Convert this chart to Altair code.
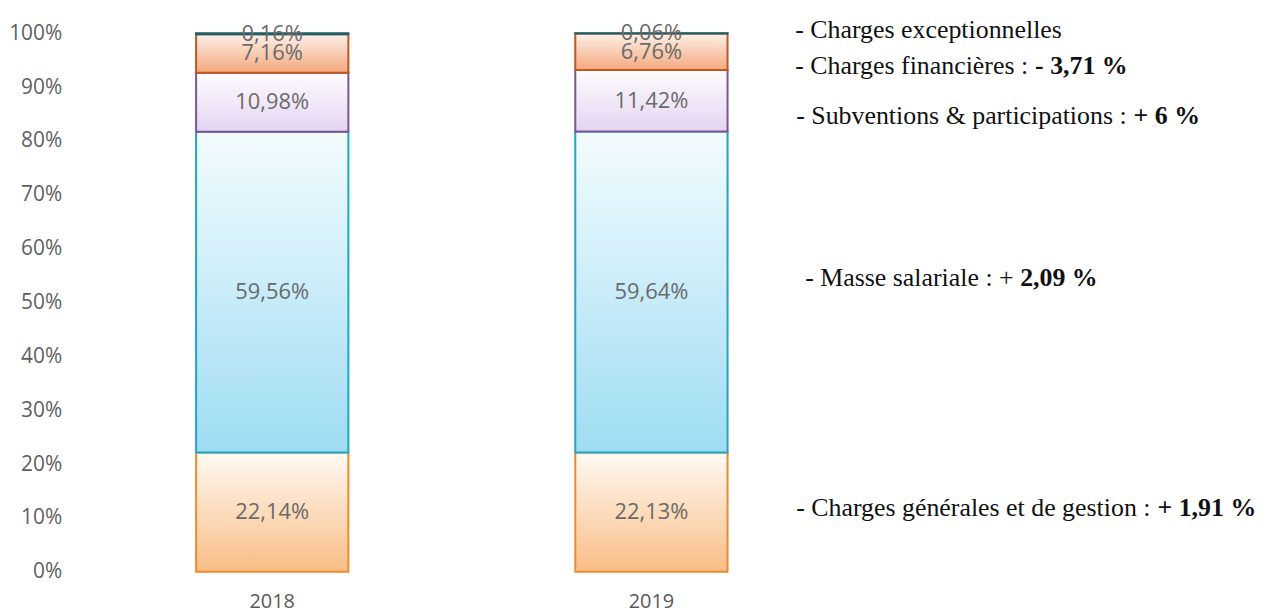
import altair as alt
import pandas as pd

years = ["2018", "2019"]
categories = [
    "Charges générales et de gestion",
    "Masse salariale",
    "Subventions & participations",
    "Charges financières",
    "Charges exceptionnelles",
]
values_2018 = [22.14, 59.56, 10.98, 7.16, 0.16]
values_2019 = [22.13, 59.64, 11.42, 6.76, 0.06]
y_ticks = [0, 10, 20, 30, 40, 50, 60, 70, 80, 90, 100]

# annotation texts (normal part, bold part)
notes_normal = [
    "- Charges exceptionnelles",
    "- Charges financières : ",
    "- Subventions & participations : ",
    "- Masse salariale : + ",
    "- Charges générales et de gestion : ",
]
notes_bold = ["", "- 3,71 %", "+ 6 %", "2,09 %", "+ 1,91 %"]

rows = []
for y, vals in zip(years, [values_2018, values_2019]):
    for i, (c, v) in enumerate(zip(categories, vals)):
        rows.append({"year": y, "cat": c, "order": i, "value": v})
df = pd.DataFrame(rows)

# styles per category: (stroke, gradient top, gradient bottom)
styles = {
    categories[0]: ("#ef8a2c", "#fffaf3", "#f9bd86"),
    categories[1]: ("#1ea6c6", "#f4fcfe", "#9edcf3"),
    categories[2]: ("#7a5694", "#fefcff", "#e4d4f1"),
    categories[3]: ("#c0561a", "#fdf0e8", "#f4a87d"),
    categories[4]: ("#1d5e6b", "#d8f3fa", "#9fdcef"),
}

W, H = 762, 541

base = alt.Chart(df).transform_stack(
    stack="value", groupby=["year"], as_=["y0", "y1"], sort=[alt.SortField("order")]
)

x_enc = alt.X(
    "year:N",
    title=None,
    scale=alt.Scale(paddingInner=0, paddingOuter=0),
    axis=alt.Axis(
        labelAngle=0,
        domain=False,
        ticks=False,
        tickSize=0,
        labelPadding=20,
        labelFont="Open Sans",
        labelFontSize=20,
        labelColor="#595959",
    ),
)
y_scale = alt.Scale(domain=[0, 100], nice=False, zero=True)

layers = []
for c in categories:
    stroke, top, bottom = styles[c]
    grad = alt.Gradient(
        gradient="linear",
        stops=[
            alt.GradientStop(color=top, offset=0),
            alt.GradientStop(color=bottom, offset=1),
        ],
        x1=0, x2=0, y1=0, y2=1,
    )
    layer = base.transform_filter(alt.datum.cat == c).mark_bar(
        size=153, fill=grad, stroke=stroke, strokeWidth=2
    ).encode(
        x=x_enc,
        y=alt.Y(
            "y0:Q",
            title=None,
            scale=y_scale,
            axis=alt.Axis(
                values=y_ticks,
                labelExpr="datum.value + '%'",
                domain=False,
                ticks=False,
                tickSize=0,
                grid=False,
                labelPadding=21,
                labelFont="Open Sans",
                labelFontSize=21,
                labelColor="#5f5f5f",
            ),
        ),
        y2="y1:Q",
    )
    layers.append(layer)

labels = base.transform_calculate(
    mid="(datum.y0 + datum.y1) / 2",
    label="replace(format(datum.value, '.2f'), '.', ',') + '%'",
).mark_text(font="Open Sans", fontSize=22, color="#6a6a6a").encode(
    x=alt.X("year:N"),
    y=alt.Y("mid:Q", scale=y_scale),
    text="label:N",
)
layers.append(labels)

# annotations on the right (pixel positions relative to plot area)
ann_x_normal = [716, 716, 717, 726, 717]
ann_x_bold = [None, 957, 1056, 942, 1080]
ann_y = [5, 41, 91, 254, 485]
for i in range(len(notes_normal)):
    layers.append(
        alt.Chart(pd.DataFrame({"t": [notes_normal[i]]})).mark_text(
            font="Liberation Serif", fontSize=26, color="#111111",
            align="left", baseline="alphabetic",
        ).encode(x=alt.value(ann_x_normal[i]), y=alt.value(ann_y[i]), text="t:N")
    )
    if notes_bold[i]:
        layers.append(
            alt.Chart(pd.DataFrame({"t": [notes_bold[i]]})).mark_text(
                font="Liberation Serif", fontSize=26, fontWeight="bold",
                color="#111111", align="left", baseline="alphabetic",
            ).encode(x=alt.value(ann_x_bold[i]), y=alt.value(ann_y[i]), text="t:N")
        )

chart = alt.layer(*layers).properties(
    width=W,
    height=H,
    autosize=alt.AutoSizeParams(type="none"),
    padding={"left": 75, "top": 24, "right": 420, "bottom": 40},
).configure(
    background="white",
    view=alt.ViewConfig(stroke="transparent", strokeWidth=0),
)

chart.save("out.html", embed_options={"renderer": "svg", "actions": False})
